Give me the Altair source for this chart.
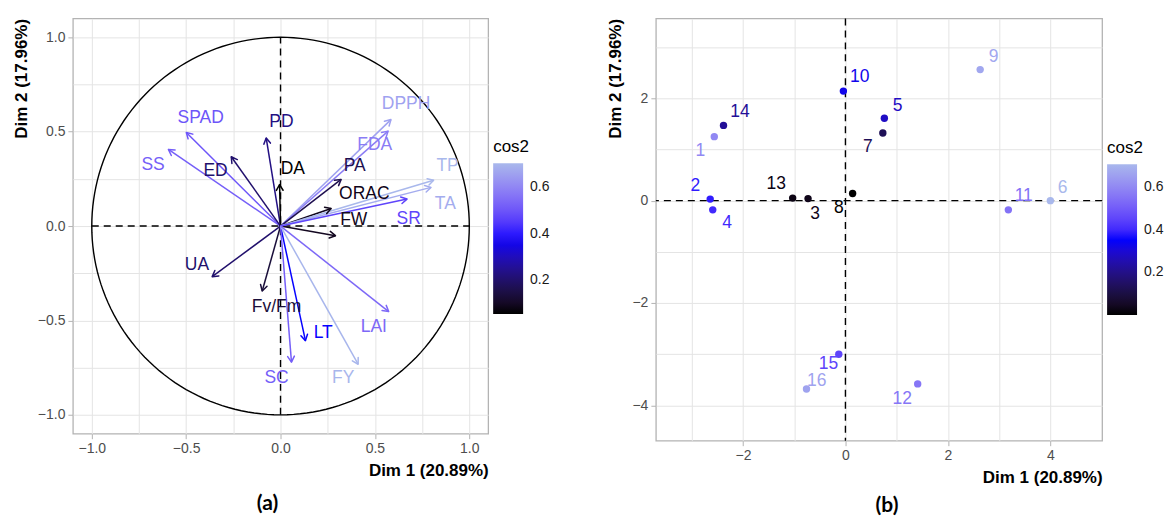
import altair as alt
import pandas as pd

# ---------------- Panel (a): variables (correlation circle) ----------------
var_names = ["SPAD", "SS", "ED", "PD", "DA", "DPPH", "FDA", "PA", "ORAC", "FW",
             "TP", "TA", "SR", "UA", "Fv/Fm", "LT", "SC", "FY", "LAI"]
var_dim1 = [-0.499, -0.594, -0.261, -0.076, -0.005, 0.585, 0.570, 0.321, 0.268, 0.291,
            0.811, 0.797, 0.670, -0.362, -0.097, 0.132, 0.058, 0.411, 0.573]
var_dim2 = [0.496, 0.406, 0.367, 0.467, 0.220, 0.564, 0.503, 0.247, 0.093, -0.051,
            0.243, 0.205, 0.143, -0.268, -0.344, -0.607, -0.721, -0.732, -0.453]
var_cos2 = [0.50, 0.52, 0.20, 0.23, 0.052, 0.66, 0.58, 0.16, 0.08, 0.09,
            0.705, 0.68, 0.47, 0.20, 0.13, 0.38, 0.52, 0.70, 0.54]
var_lab_x = [-0.423, -0.675, -0.344, 0.005, 0.065, 0.665, 0.499, 0.393, 0.444, 0.388,
             0.885, 0.873, 0.679, -0.443, -0.021, 0.226, -0.021, 0.332, 0.494]
var_lab_y = [0.573, 0.326, 0.291, 0.549, 0.302, 0.644, 0.429, 0.317, 0.168, 0.032,
             0.319, 0.116, 0.035, -0.206, -0.430, -0.564, -0.806, -0.806, -0.536]

# ---------------- Panel (b): individuals ----------------
ind_ids = ["1", "2", "3", "4", "5", "6", "7", "8", "9", "10", "11", "12", "13", "14", "15", "16"]
ind_dim1 = [-2.56, -2.64, -0.73, -2.59, 0.76, 4.00, 0.73, 0.14, 2.63, -0.04, 3.18, 1.41, -1.03, -2.38, -0.13, -0.76]
ind_dim2 = [1.25, 0.03, 0.04, -0.18, 1.61, 0.00, 1.32, 0.14, 2.56, 2.14, -0.18, -3.58, 0.05, 1.47, -3.00, -3.68]
ind_cos2 = [0.60, 0.38, 0.03, 0.40, 0.28, 0.708, 0.13, 0.00, 0.67, 0.33, 0.55, 0.56, 0.02, 0.22, 0.45, 0.66]
ind_lab_x = [-2.83, -2.93, -0.59, -2.31, 1.02, 4.24, 0.44, -0.13, 2.89, 0.28, 3.48, 1.11, -1.35, -2.06, -0.33, -0.56]
ind_lab_y = [0.97, 0.28, -0.27, -0.44, 1.85, 0.25, 1.05, -0.14, 2.81, 2.42, 0.10, -3.88, 0.32, 1.74, -3.19, -3.52]

x_title = "Dim 1 (20.89%)"
y_title = "Dim 2 (17.96%)"

FONT = "Liberation Sans"
W_A, H_A = 416, 416
W_B, H_B = 447, 423
GRAD = ["#000000", "#0000FF", "#A9B8EC"]


def cscale(vals, eps=0.0):
    lo, hi = min(vals), max(vals)
    return alt.Scale(domain=[lo, (lo + hi) / 2, hi + eps], range=GRAD, interpolate="lab")


def legend(lx, ly):
    return alt.Legend(title="cos2", type="gradient", orient="none", legendX=lx, legendY=ly,
                      direction="vertical", gradientLength=151, gradientThickness=30,
                      gradientStrokeWidth=0, values=[0.2, 0.4, 0.6], format=".1f",
                      titleFont=FONT, titleFontSize=17, titleFontWeight="normal",
                      titleColor="black", titlePadding=7,
                      labelFont=FONT, labelFontSize=14, labelColor="#1A1A1A", labelOffset=7)


def axis(values, test, fmt, title, orient):
    return alt.Axis(values=values, title=title, titleAnchor="end",
                    labelExpr=f"({test}) ? format(datum.value, '{fmt}') : ''",
                    tickOpacity={"condition": {"test": f"!({test})", "value": 0}, "value": 1},
                    orient=orient)


# ----- panel (a) -----
dfa = pd.DataFrame({"name": var_names, "d1": var_dim1, "d2": var_dim2, "cos2": var_cos2,
                    "lx": var_lab_x, "ly": var_lab_y})
major_a = "abs(datum.value*2 - round(datum.value*2)) < 0.01"
grid_a = [-1, -0.75, -0.5, -0.25, 0, 0.25, 0.5, 0.75, 1]
xs_a = alt.Scale(domain=[-1.1, 1.1], nice=False, zero=False)
ys_a = alt.Scale(domain=[-1.1, 1.1], nice=False, zero=False)
ax_a_x = axis(grid_a, major_a, ".1f", x_title, "bottom")
ax_a_y = axis(grid_a, major_a, ".1f", y_title, "left")
col_a = alt.Color("cos2:Q", scale=cscale(var_cos2), legend=legend(421, 121))
# stroke uses the same colour ramp (domain end nudged by 1e-7 so the legend is not merged away)
stroke_a = alt.Stroke("cos2:Q", scale=cscale(var_cos2, 1e-7), legend=None)

one = pd.DataFrame({"z": [0]})

hline_a = alt.Chart(one).mark_rule(color="black", strokeWidth=1.4, strokeDash=[7, 5]).encode(
    x=alt.X(datum=-1, scale=xs_a, axis=ax_a_x), x2=alt.X2(datum=1),
    y=alt.Y(datum=0, scale=ys_a, axis=ax_a_y))
vline_a = alt.Chart(one).mark_rule(color="black", strokeWidth=1.4, strokeDash=[7, 5]).encode(
    y=alt.Y(datum=-1, scale=ys_a, axis=ax_a_y), y2=alt.Y2(datum=1),
    x=alt.X(datum=0, scale=xs_a, axis=ax_a_x))

circle = alt.Chart(alt.sequence(0, 362, 2, as_="t")).transform_calculate(
    cx="cos(datum.t*PI/180)", cy="sin(datum.t*PI/180)"
).mark_line(color="black", strokeWidth=1.4).encode(
    x=alt.X("cx:Q", scale=xs_a, axis=ax_a_x),
    y=alt.Y("cy:Q", scale=ys_a, axis=ax_a_y),
    order="t:Q")

base_a = alt.Chart(dfa).transform_calculate(o="0", ang="(atan2(datum.d1, datum.d2)*180/PI + 360) % 360")

arrows = base_a.mark_rule(strokeWidth=1.5).encode(
    x=alt.X("o:Q", scale=xs_a, axis=ax_a_x), x2="d1:Q",
    y=alt.Y("o:Q", scale=ys_a, axis=ax_a_y), y2="d2:Q",
    stroke=stroke_a)
heads = base_a.mark_point(shape="M -0.5 0.866 L 0 0 L 0.5 0.866", filled=False, size=180,
                          strokeWidth=1.5, opacity=1, strokeCap="round", strokeJoin="round").encode(
    x=alt.X("d1:Q", scale=xs_a, axis=ax_a_x),
    y=alt.Y("d2:Q", scale=ys_a, axis=ax_a_y),
    angle=alt.Angle("ang:Q", scale=None),
    stroke=stroke_a)
labels_a = base_a.mark_text(font=FONT, fontSize=17.5, align="center", baseline="middle").encode(
    x=alt.X("lx:Q", scale=xs_a, axis=ax_a_x),
    y=alt.Y("ly:Q", scale=ys_a, axis=ax_a_y),
    text="name:N",
    color=col_a)

chart_a = alt.layer(circle, hline_a, vline_a, arrows, heads, labels_a).properties(
    width=W_A, height=H_A,
    title=alt.TitleParams("(a)", orient="bottom", anchor="middle", frame="group", fontSize=21,
                          fontWeight="bold", font="Lato", color="black", offset=14, dx=-13))

# ----- panel (b) -----
dfb = pd.DataFrame({"id": ind_ids, "d1": ind_dim1, "d2": ind_dim2, "cos2": ind_cos2,
                    "lx": ind_lab_x, "ly": ind_lab_y})
major_b = "datum.value % 2 == 0"
xs_b = alt.Scale(domain=[-3.70, 5.01], nice=False, zero=False)
ys_b = alt.Scale(domain=[-4.69, 3.56], nice=False, zero=False)
ax_b_x = axis([-3, -2, -1, 0, 1, 2, 3, 4], major_b, "d", x_title, "bottom")
ax_b_y = axis([-4, -3, -2, -1, 0, 1, 2, 3], major_b, "d", y_title, "left")
col_b = alt.Color("cos2:Q", scale=cscale(ind_cos2), legend=legend(452, 122))

hline_b = alt.Chart(one).mark_rule(color="black", strokeWidth=1.4, strokeDash=[7, 5]).encode(
    y=alt.Y(datum=0, scale=ys_b, axis=ax_b_y))
vline_b = alt.Chart(one).mark_rule(color="black", strokeWidth=1.4, strokeDash=[7, 5]).encode(
    x=alt.X(datum=0, scale=xs_b, axis=ax_b_x))

pts = alt.Chart(dfb).mark_circle(size=55, opacity=1).encode(
    x=alt.X("d1:Q", scale=xs_b, axis=ax_b_x),
    y=alt.Y("d2:Q", scale=ys_b, axis=ax_b_y),
    color=col_b)
labels_b = alt.Chart(dfb).mark_text(font=FONT, fontSize=17.5, align="center", baseline="middle").encode(
    x=alt.X("lx:Q", scale=xs_b, axis=ax_b_x),
    y=alt.Y("ly:Q", scale=ys_b, axis=ax_b_y),
    text="id:N",
    color=col_b)

chart_b = alt.layer(hline_b, vline_b, pts, labels_b).properties(
    width=W_B, height=H_B,
    title=alt.TitleParams("(b)", orient="bottom", anchor="middle", frame="group", fontSize=21,
                          fontWeight="bold", font="Lato", color="black", offset=9, dx=8))

chart = alt.hconcat(chart_a, chart_b, spacing=55).resolve_scale(
    color="independent", stroke="independent", x="independent", y="independent"
).resolve_legend(color="independent").properties(
    padding={"left": 3, "top": 8, "right": 0, "bottom": 0}, background="white"
).configure_view(
    stroke="#B3B3B3", strokeWidth=1.3
).configure_axis(
    domain=False, grid=True, gridColor="#E4E4E4", gridWidth=1,
    tickColor="#B3B3B3", tickSize=5, tickWidth=1,
    labelFont=FONT, labelFontSize=14, labelColor="#4D4D4D", labelPadding=3,
    titleFont=FONT, titleFontSize=17, titleFontWeight="bold", titleColor="black", titlePadding=7
)

chart.save("out.html", embed_options={"renderer": "svg", "actions": False})
